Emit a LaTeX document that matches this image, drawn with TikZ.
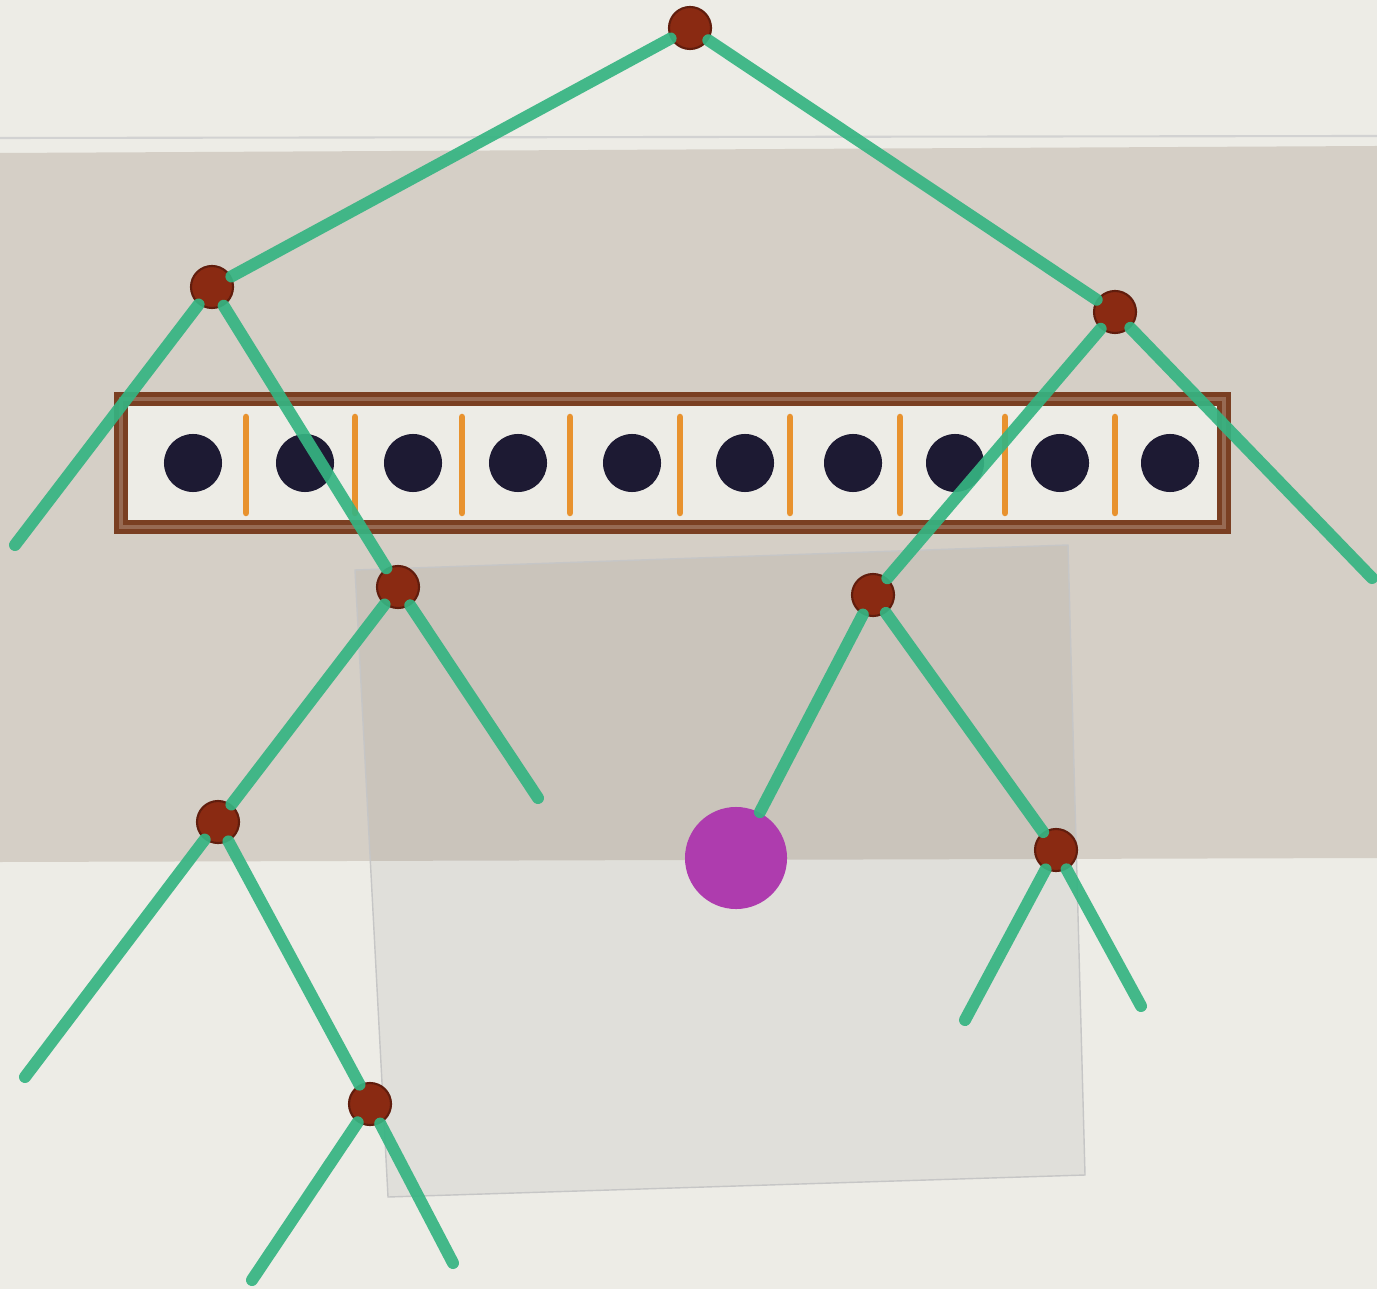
\documentclass[tikz,border=0pt]{standalone}
\usepackage{tikz}
\usetikzlibrary{calc}
\definecolor{paper}{HTML}{EDECE6}
\definecolor{bandgray}{HTML}{D5CFC6}
\definecolor{boxbrown}{HTML}{7A3F22}
\definecolor{knotbrown}{HTML}{8A2A12}
\definecolor{twiggreen}{HTML}{35B482}
\definecolor{inkblue}{HTML}{1D1A33}
\definecolor{tickorange}{HTML}{E8922E}
\definecolor{plum}{HTML}{AE3CAE}

\begin{document}
\begin{tikzpicture}[x=0.01cm,y=-0.01cm,
  knot/.style={circle,fill=knotbrown,draw=knotbrown!70!black,line width=0.6pt,minimum size=0.42cm,inner sep=0pt},
  twig/.style={draw=twiggreen,line width=0.12cm,line cap=round,opacity=0.92},
  ball/.style={circle,fill=inkblue,minimum size=0.58cm,inner sep=0pt},
  tick/.style={draw=tickorange,line width=0.065cm,line cap=round},
  goal/.style={circle,fill=plum,minimum size=1.02cm,inner sep=0pt}]
% paper, band and sheet
\useasboundingbox (0,0) rectangle (1377,1289);
\fill[paper] (0,0) rectangle (1377,1289);
\draw[gray!35,line width=0.6pt] (0,138) -- (1377,136);
\fill[bandgray] (0,153) -- (1377,146) -- (1377,858) -- (0,862) -- cycle;
\fill[black,fill opacity=0.05] (355,570) -- (1068,545) -- (1085,1175) -- (388,1197) -- cycle;
\draw[gray!45,line width=0.4pt] (355,570) -- (1068,545) -- (1085,1175) -- (388,1197) -- cycle;
% array of cells
\draw[boxbrown,fill=paper,line width=0.055cm,double=boxbrown!75!paper,double distance=0.035cm] (121,399) rectangle (1224,527);
\foreach \x in {193,305,413,518,632,745,853,955,1060,1170}
  \node[ball] at (\x,463) {};
\foreach \x in {246,355,462,570,680,790,900,1005,1115}
  \draw[tick] (\x,417) -- (\x,513);
% tree
\node[knot] (root) at (690,28) {};
\node[knot] (nL) at (212,287) {};
\node[knot] (nR) at (1115,312) {};
\node[knot] (nLR) at (398,587) {};
\node[knot] (nRL) at (873,595) {};
\node[knot] (nLRL) at (218,822) {};
\node[knot] (nRLR) at (1056,850) {};
\node[knot] (nLRLR) at (370,1104) {};
\node[goal] (goal) at (736,858) {};
\coordinate (lA) at (15,545);
\coordinate (lB) at (1372,578);
\coordinate (lC) at (538,798);
\coordinate (lD) at (25,1077);
\coordinate (lE) at (252,1280);
\coordinate (lF) at (453,1263);
\coordinate (lG) at (965,1020);
\coordinate (lH) at (1141,1006);
\path[twig]
(root) edge (nL)
(root) edge (nR)
(nL) edge (lA)
(nL) edge (nLR)
(nR) edge (nRL)
(nR) edge (lB)
(nLR) edge (nLRL)
(nLR) edge (lC)
(nRL) edge (goal)
(nRL) edge (nRLR)
(nLRL) edge (lD)
(nLRL) edge (nLRLR)
(nLRLR) edge (lE)
(nLRLR) edge (lF)
(nRLR) edge (lG)
(nRLR) edge (lH)
;
\end{tikzpicture}
\end{document}
